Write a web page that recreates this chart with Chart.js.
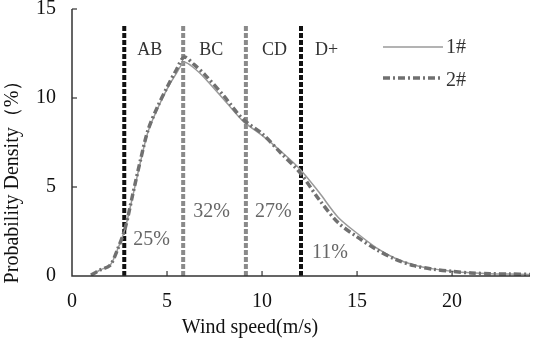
<!DOCTYPE html>
<html>
<head>
<meta charset="utf-8">
<script src="https://cdn.jsdelivr.net/npm/chart.js@4.4.1/dist/chart.umd.min.js"></script>
<style>
  html, body { margin: 0; padding: 0; background: #fff; }
  #wrap { width: 533px; height: 347px; }
</style>
</head>
<body>
<div id="wrap"><canvas id="WindChart"></canvas></div>
<script>
// wind speed (m/s) and probability density (%)
var speeds   = [1.0, 1.5, 2.0, 2.4, 2.8, 3.2, 3.6, 4.0, 4.5, 5.0, 5.5, 5.9, 6.4, 7.0, 8.0, 9.0, 10.0, 11.0, 12.0, 13.0, 14.0, 15.0, 16.0, 17.0, 18.0, 19.0, 20.0, 21.0, 22.0, 23.0, 24.1];
var density1 = [0.05, 0.35, 0.6, 1.5, 2.7, 4.5, 6.4, 8.1, 9.4, 10.5, 11.4, 12.0, 11.7, 11.1, 9.9, 8.7, 7.9, 7.0, 6.0, 4.7, 3.3, 2.4, 1.6, 1.0, 0.62, 0.4, 0.27, 0.18, 0.13, 0.11, 0.09];
var density2 = [0.05, 0.35, 0.6, 1.5, 2.7, 4.6, 6.5, 8.2, 9.5, 10.6, 11.6, 12.3, 11.9, 11.3, 10.1, 8.8, 8.0, 6.9, 5.8, 4.3, 3.0, 2.2, 1.5, 0.95, 0.58, 0.38, 0.26, 0.17, 0.13, 0.11, 0.09];
var boundaries = [2.75, 5.85, 9.15, 12.05];
var boundaryTop = 14.1;
var classNames = ['AB', 'BC', 'CD', 'D+'];
var classShares = ['25%', '32%', '27%', '11%'];
var seriesNames = ['1#', '2#'];
var xTicks = [0, 5, 10, 15, 20];
var yTicks = [0, 5, 10, 15];

var serif = '"Liberation Serif", "Times New Roman", serif';

function pts(xs, ys) {
  return xs.map(function (x, i) { return { x: x, y: ys[i] }; });
}

var boundarySets = boundaries.map(function (b, i) {
  var dark = (i === 0 || i === 3);
  return {
    data: [{ x: b, y: 0 }, { x: b, y: boundaryTop }],
    borderColor: dark ? '#111' : '#8a8a8a',
    borderWidth: 4,
    borderDash: [5, 2],
    pointRadius: 0,
    order: 3
  };
});

var decor = {
  id: 'decor',
  afterDraw: function (chart) {
    var c = chart.ctx, xs = chart.scales.x, ys = chart.scales.y;
    var area = chart.chartArea;
    c.save();
    // axis lines
    c.strokeStyle = '#333';
    c.lineWidth = 1.5;
    c.beginPath();
    c.moveTo(area.left, area.top);
    c.lineTo(area.left, area.bottom);
    c.lineTo(area.right, area.bottom);
    c.stroke();
    // inward ticks
    c.lineWidth = 1.2;
    xTicks.forEach(function (t) {
      if (t === 0) return;
      var px = xs.getPixelForValue(t);
      c.beginPath(); c.moveTo(px, area.bottom); c.lineTo(px, area.bottom - 5); c.stroke();
    });
    yTicks.forEach(function (t) {
      if (t === 0) return;
      var py = ys.getPixelForValue(t);
      c.beginPath(); c.moveTo(area.left, py); c.lineTo(area.left + 5, py); c.stroke();
    });
    // class names and shares
    c.textBaseline = 'middle';
    c.textAlign = 'left';
    var shareY = [240, 212, 212, 253];
    var nameOff = [13, 16, 16, 14];
    var shareOff = [9, 10, 9, 11];
    boundaries.forEach(function (b, i) {
      var px = xs.getPixelForValue(b);
      c.font = '18px ' + serif;
      c.fillStyle = '#333';
      c.fillText(classNames[i], px + nameOff[i], 50);
      c.font = '20px ' + serif;
      c.fillStyle = '#666';
      c.fillText(classShares[i], px + shareOff[i], shareY[i]);
    });
    // legend
    c.lineWidth = 1.5;
    c.strokeStyle = '#9a9a9a';
    c.beginPath(); c.moveTo(383, 47); c.lineTo(443, 47); c.stroke();
    c.lineWidth = 3.5;
    c.strokeStyle = '#707070';
    c.setLineDash([7, 3, 2, 3]);
    c.beginPath(); c.moveTo(383, 78); c.lineTo(443, 78); c.stroke();
    c.setLineDash([]);
    c.font = '20px ' + serif;
    c.fillStyle = '#333';
    c.fillText(seriesNames[0], 446, 48);
    c.fillText(seriesNames[1], 446, 81);
    // x title
    c.textAlign = 'center';
    c.font = '20px ' + serif;
    c.fillStyle = '#111';
    c.fillText('Wind speed(m/s)', 250, 328);
    // y title
    c.translate(13, 177);
    c.rotate(-Math.PI / 2);
    c.font = '20px ' + serif;
    c.fillText('Probability Density\uFF08%\uFF09', 0, 0);
    c.restore();
  }
};

var ctx = document.getElementById('WindChart');

var WindChart = new Chart(ctx, {
  type: 'line',
  data: {
    datasets: [{
      label: seriesNames[0],
      data: pts(speeds, density1),
      borderColor: '#9a9a9a',
      borderWidth: 1.5,
      pointRadius: 0,
      tension: 0.3,
      order: 2
    }, {
      label: seriesNames[1],
      data: pts(speeds, density2),
      borderColor: '#707070',
      borderWidth: 3.5,
      borderDash: [7, 3, 2, 3],
      pointRadius: 0,
      tension: 0.3,
      order: 1
    }].concat(boundarySets)
  },
  options: {
    responsive: true,
    maintainAspectRatio: false,
    animation: false,
    layout: { padding: { top: 9, right: 3, left: 0, bottom: 0 } },
    plugins: {
      legend: { display: false },
      tooltip: { enabled: false }
    },
    scales: {
      x: {
        type: 'linear',
        min: 0,
        max: 24.1,
        border: { display: false },
        grid: { display: false },
        afterBuildTicks: function (s) { s.ticks = xTicks.map(function (v) { return { value: v }; }); },
        afterFit: function (s) { s.height = 71; },
        ticks: { color: '#111', font: { family: serif, size: 20 }, padding: 6, maxRotation: 0 }
      },
      y: {
        min: 0,
        max: 15,
        border: { display: false },
        grid: { display: false },
        afterBuildTicks: function (s) { s.ticks = yTicks.map(function (v) { return { value: v }; }); },
        afterFit: function (s) { s.width = 72; s.paddingTop = 0; s.paddingBottom = 0; },
        ticks: { color: '#111', font: { family: serif, size: 20 }, padding: 8 }
      }
    }
  },
  plugins: [decor]
});
</script>
</body>
</html>
